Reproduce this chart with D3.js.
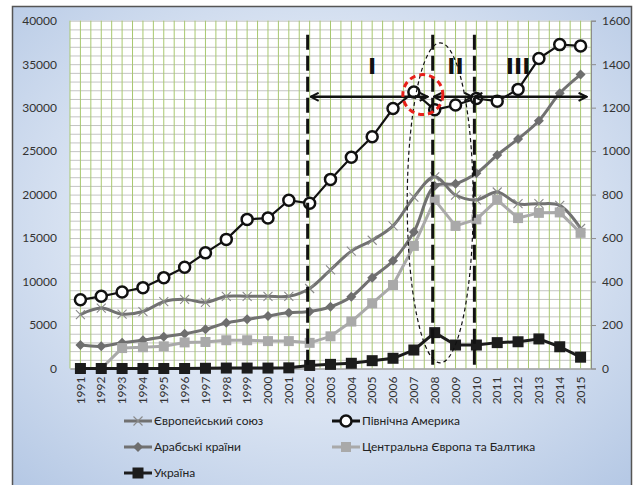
<!DOCTYPE html>
<html>
<head>
<meta charset="utf-8">
<script src="https://cdn.jsdelivr.net/npm/d3@7"></script>
<style>
	body { margin: 0; background: #fff; }
	text { font-family: Lato, "Open Sans", sans-serif; }
</style>
</head>
<body>
<script>
const years = ["1991", "1992", "1993", "1994", "1995", "1996", "1997", "1998", "1999", "2000", "2001", "2002", "2003",
	"2004", "2005", "2006", "2007", "2008", "2009", "2010", "2011", "2012", "2013", "2014", "2015"];
// left axis series
const euValues = [6200, 6950, 6250, 6550, 7680, 7950, 7610, 8300, 8300, 8300, 8300, 9200, 11350, 13500, 14750, 16400,
	19700, 22050, 19950, 19400, 20300, 18950, 18950, 18750, 16100];
const naValues = [7900, 8300, 8800, 9300, 10450, 11650, 13300, 14850, 17150, 17300, 19350, 19000, 21750, 24300, 26650,
	29900, 31800, 29750, 30300, 31050, 30750, 32100, 35650, 37250, 37100];
const arabValues = [2700, 2550, 2950, 3250, 3650, 4000, 4500, 5250, 5650, 6050, 6400, 6550, 7100, 8250, 10450, 12400,
	15700, 21000, 21250, 22450, 24550, 26400, 28500, 31650, 33800];
const cebValues = [0, 0, 2350, 2450, 2550, 3000, 3050, 3250, 3250, 3150, 3150, 2950, 3700, 5400, 7500, 9600, 14100,
	19400, 16400, 17150, 19400, 17300, 17900, 17950, 15600];
// right axis series
const uaValues = [0, 0, 0, 0, 0, 0, 1, 2, 2, 2, 3, 14, 19, 24, 36, 47, 85, 165, 108, 108, 119, 123, 136, 100, 52];

const leftTicks = [0, 5000, 10000, 15000, 20000, 25000, 30000, 35000, 40000];
const rightTicks = [0, 200, 400, 600, 800, 1000, 1200, 1400, 1600];

const seriesNames = ["Європейський союз", "Північна Америка", "Арабські країни", "Центральна Європа та Балтика", "Україна"];

// annotation: periods
const periodFrom = ["2002", "2008", "2010"];
const periodTo = ["2008", "2010", "2015"];
const periodLabels = ["I", "II", "III"];
const periodLabelYears = ["2005", "2009", "2012"];

const W = 637, H = 485;
const plot = { left: 70, right: 591, top: 20.7, bottom: 368.5 };

const svg = d3.select("body").append("svg").attr("width", W).attr("height", H);
const defs = svg.append("defs");

const grad = defs.append("radialGradient").attr("id", "bg").attr("cx", "50%").attr("cy", "45%").attr("r", "72%");
grad.append("stop").attr("offset", "0%").attr("stop-color", "#f2f5fb");
grad.append("stop").attr("offset", "55%").attr("stop-color", "#d9e3f2");
grad.append("stop").attr("offset", "100%").attr("stop-color", "#b6c9e5");

defs.append("marker")
	.attr("id", "arr")
	.attr("viewBox", "0 0 10 10")
	.attr("refX", 9)
	.attr("refY", 5)
	.attr("markerWidth", 10)
	.attr("markerHeight", 10)
	.attr("markerUnits", "userSpaceOnUse")
	.attr("orient", "auto-start-reverse")
	.append("path")
	.attr("d", "M1,1 L9,5 L1,9")
	.attr("fill", "none")
	.attr("stroke", "#111")
	.attr("stroke-width", 2);

svg.append("rect")
	.attr("x", 12.5).attr("y", 6.5)
	.attr("width", 619).attr("height", 485)
	.attr("fill", "url(#bg)")
	.attr("stroke", "#555")
	.attr("stroke-width", 1.5);

const x = d3.scaleBand().domain(years).range([plot.left, plot.right]);
const cx = (d) => x(d) + x.bandwidth() / 2;
const yL = d3.scaleLinear().domain([0, 40000]).range([plot.bottom, plot.top]);
const yR = d3.scaleLinear().domain([0, 1600]).range([plot.bottom, plot.top]);

svg.append("rect")
	.attr("x", plot.left).attr("y", plot.top)
	.attr("width", plot.right - plot.left).attr("height", plot.bottom - plot.top)
	.attr("fill", "#fff");

// horizontal grid
svg.append("g")
	.attr("transform", "translate(" + plot.left + ",0)")
	.call(d3.axisLeft(yL).ticks(40).tickSize(-(plot.right - plot.left)).tickFormat(""))
	.call((g) => g.select(".domain").remove())
	.selectAll("line")
	.attr("stroke", "#c4c4c4");

// vertical grid: band edges + centres
const vx = [];
years.forEach((d) => { vx.push(x(d)); vx.push(cx(d)); });
vx.push(plot.right);
svg.append("g")
	.selectAll("line")
	.data(vx)
	.enter()
	.append("line")
	.attr("x1", (d) => d).attr("x2", (d) => d)
	.attr("y1", plot.top).attr("y2", plot.bottom)
	.attr("stroke", "#a8c870")
	.attr("stroke-width", 1);

// axes
svg.append("g")
	.attr("transform", "translate(" + plot.left + ",0)")
	.call(d3.axisLeft(yL).tickValues(leftTicks).tickSize(0).tickPadding(13).tickFormat(d3.format("d")))
	.call((g) => g.select(".domain").remove())
	.selectAll("text")
	.attr("font-size", 12)
	.attr("fill", "#333");

const rAxis = svg.append("g")
	.attr("transform", "translate(" + plot.right + ",0)")
	.call(d3.axisRight(yR).tickValues(rightTicks).tickSize(5).tickPadding(6).tickFormat(d3.format("d")));
rAxis.select(".domain").attr("stroke", "#8c8c8c");
rAxis.selectAll("line").attr("stroke", "#8c8c8c");
rAxis.selectAll("text").attr("font-size", 12).attr("fill", "#333");

const xAxis = svg.append("g")
	.attr("transform", "translate(0," + plot.bottom + ")")
	.call(d3.axisBottom(x).tickSize(0));
xAxis.select(".domain").attr("stroke", "#8c8c8c");
xAxis.selectAll("text")
	.attr("font-size", 12)
	.attr("fill", "#333")
	.attr("transform", "rotate(-90)")
	.attr("x", -8)
	.attr("y", 0)
	.attr("dy", "0.35em")
	.style("text-anchor", "end");

// series
const drawLine = (values, scale, color, w, curve) => {
	const line = d3.line()
		.defined((d) => d != null)
		.x((d, i) => cx(years[i]))
		.y((d) => scale(d))
		.curve(curve || d3.curveLinear);
	svg.append("path")
		.datum(values)
		.attr("d", line)
		.attr("fill", "none")
		.attr("stroke", color)
		.attr("stroke-width", w)
		.attr("stroke-linejoin", "round");
};

const addMarker = (g, kind) => {
	if (kind == "x") g.append("path").attr("d", "M-4.5,-4.5L4.5,4.5M-4.5,4.5L4.5,-4.5").attr("stroke", "#8a8a8a").attr("stroke-width", 1.1);
	if (kind == "circle") g.append("circle").attr("r", 5.5).attr("fill", "#fff").attr("stroke", "#111").attr("stroke-width", 2.5);
	if (kind == "diamond") g.append("path").attr("d", "M0,-5L5,0L0,5L-5,0Z").attr("fill", "#6e6e6e");
	if (kind == "sqLight") g.append("rect").attr("x", -5).attr("y", -5).attr("width", 10).attr("height", 10).attr("fill", "#a9a9a9");
	if (kind == "sqDark") g.append("rect").attr("x", -5.5).attr("y", -5.5).attr("width", 11).attr("height", 11).attr("fill", "#1c1c1c");
};

const markers = (values, scale, kind) => {
	svg.append("g")
		.selectAll("g")
		.data(values)
		.enter()
		.append("g")
		.attr("transform", (d, i) => "translate(" + cx(years[i]) + "," + scale(d) + ")")
		.each(function () { addMarker(d3.select(this), kind); });
};

drawLine(euValues, yL, "#717171", 3, d3.curveCatmullRom.alpha(0.5));
markers(euValues, yL, "x");
drawLine(naValues, yL, "#111", 2.2);
markers(naValues, yL, "circle");
drawLine(arabValues, yL, "#717171", 3, d3.curveCatmullRom.alpha(0.5));
markers(arabValues, yL, "diamond");
drawLine(cebValues, yL, "#a9a9a9", 3);
markers(cebValues, yL, "sqLight");
drawLine(uaValues, yR, "#1c1c1c", 3);
markers(uaValues, yR, "sqDark");

// annotations
const ann = svg.append("g");
ann.append("ellipse")
	.attr("cx", cx("2008") + 5.5)
	.attr("cy", yR(762))
	.attr("rx", 33)
	.attr("ry", 160)
	.attr("fill", "none")
	.attr("stroke", "#111")
	.attr("stroke-width", 1.2)
	.attr("stroke-dasharray", "4,3");

ann.selectAll(".vline")
	.data(["2002", "2008", "2010"])
	.enter()
	.append("line")
	.attr("class", "vline")
	.attr("x1", (d) => cx(d) - 2).attr("x2", (d) => cx(d) - 2)
	.attr("y1", yR(1535)).attr("y2", plot.bottom)
	.attr("stroke", "#111")
	.attr("stroke-width", 3)
	.attr("stroke-dasharray", "15,6");

const arrowOffsets = [[1, -7], [-1, -4], [-2, 6]];
ann.selectAll(".arrow")
	.data(periodFrom)
	.enter()
	.append("line")
	.attr("class", "arrow")
	.attr("x1", (d, i) => cx(d) + arrowOffsets[i][0])
	.attr("x2", (d, i) => cx(periodTo[i]) + arrowOffsets[i][1])
	.attr("y1", yR(1250)).attr("y2", yR(1250))
	.attr("stroke", "#111")
	.attr("stroke-width", 2.5)
	.attr("marker-start", "url(#arr)")
	.attr("marker-end", "url(#arr)");

ann.selectAll(".plabel")
	.data(periodLabels)
	.enter()
	.append("text")
	.attr("class", "plabel")
	.attr("x", (d, i) => cx(periodLabelYears[i]))
	.attr("y", yR(1400) + 10)
	.attr("text-anchor", "middle")
	.style("font-family", "DejaVu Sans")
	.attr("font-weight", "bold")
	.attr("font-size", 22)
	.attr("fill", "#111")
	.text((d) => d);

ann.append("circle")
	.attr("cx", cx("2007") + 9)
	.attr("cy", yR(1260))
	.attr("r", 20)
	.attr("fill", "none")
	.attr("stroke", "#e8201a")
	.attr("stroke-width", 3)
	.attr("stroke-dasharray", "6,4");

// legend
const legKinds = ["x", "circle", "diamond", "sqLight", "sqDark"];
const legColors = ["#717171", "#111", "#717171", "#a9a9a9", "#1c1c1c"];
const legX = [124, 332, 124, 332, 124];
const legY = [421, 421, 447, 447, 473];
const leg = svg.append("g")
	.selectAll("g")
	.data(seriesNames)
	.enter()
	.append("g")
	.attr("transform", (d, i) => "translate(" + legX[i] + "," + legY[i] + ")");
leg.append("line")
	.attr("x1", 0).attr("x2", 28)
	.attr("stroke", (d, i) => legColors[i])
	.attr("stroke-width", 3);
leg.append("g")
	.attr("transform", "translate(14,0)")
	.each(function (d, i) { addMarker(d3.select(this), legKinds[i]); });
leg.append("text")
	.attr("x", 30)
	.attr("dy", "0.35em")
	.attr("font-size", 12)
	.attr("fill", "#222")
	.text((d) => d);
</script>
</body>
</html>
